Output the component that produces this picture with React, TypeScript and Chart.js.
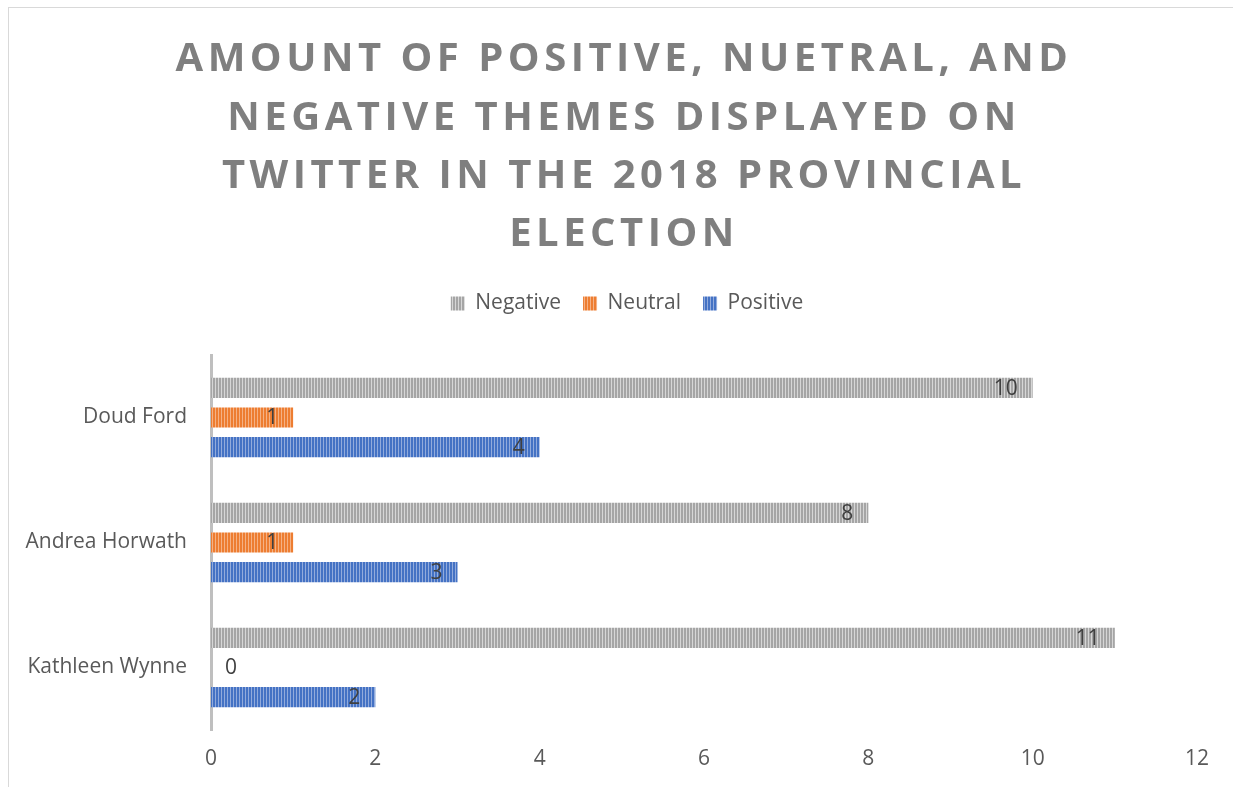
import React, { useEffect, useRef } from "react";
import { Chart, registerables } from "chart.js";

Chart.register(...registerables);

const TITLE_LINES = [
  "AMOUNT OF POSITIVE, NUETRAL, AND",
  "NEGATIVE THEMES DISPLAYED ON",
  "TWITTER IN THE 2018 PROVINCIAL",
  "ELECTION",
];
const CATEGORIES = ["Doud Ford", "Andrea Horwath", "Kathleen Wynne"];
const SERIES_NAMES = ["Negative", "Neutral", "Positive"];
const NEGATIVE = [10, 8, 11];
const NEUTRAL = [1, 1, 0];
const POSITIVE = [4, 3, 2];
const X_MIN = 0;
const X_MAX = 12;
const X_STEP = 2;

const COLORS = [
  { dark: "#a5a5a5", light: "#d6d6d6" },
  { dark: "#ed7d31", light: "#f5b184" },
  { dark: "#4472c4", light: "#92abdc" },
];

function makeStripes(dark: string, light: string): CanvasPattern | string {
  const c = document.createElement("canvas");
  c.width = 3;
  c.height = 4;
  const g = c.getContext("2d");
  if (!g) return dark;
  g.fillStyle = dark;
  g.fillRect(0, 0, 2, 4);
  g.fillStyle = light;
  g.fillRect(2, 0, 1, 4);
  const p = g.createPattern(c, "repeat");
  return p || dark;
}

const titlePlugin = {
  id: "customTitle",
  afterDraw(chart: any) {
    const ctx = chart.ctx as CanvasRenderingContext2D;
    ctx.save();
    ctx.font = 'bold 40px "Open Sans"';
    ctx.fillStyle = "#7f7f7f";
    ctx.textAlign = "center";
    ctx.textBaseline = "middle";
    (ctx as any).letterSpacing = "4.5px";
    TITLE_LINES.forEach((line, i) => {
      ctx.fillText(line, 615, 52 + i * 58.3);
    });
    ctx.restore();
  },
};

const legendShiftPlugin = {
  id: "legendShift",
  afterLayout(chart: any) {
    const l = chart.legend;
    if (l) {
      l.left += 24;
      l.right += 24;
    }
  },
};

const labelPlugin = {
  id: "barValueLabels",
  afterDatasetsDraw(chart: any) {
    const ctx = chart.ctx as CanvasRenderingContext2D;
    ctx.save();
    ctx.font = '21px "Open Sans"';
    ctx.fillStyle = "#404040";
    ctx.textBaseline = "middle";
    chart.data.datasets.forEach((ds: any, di: number) => {
      const meta = chart.getDatasetMeta(di);
      meta.data.forEach((el: any, i: number) => {
        const v = ds.data[i];
        if (v > 0) {
          ctx.textAlign = "right";
          ctx.fillText(String(v), el.x - 15, el.y + 1);
        } else {
          ctx.textAlign = "left";
          ctx.fillText(String(v), el.x + 14, el.y + 1);
        }
      });
    });
    ctx.restore();
  },
};

export default function App() {
  const ref = useRef<HTMLCanvasElement | null>(null);

  useEffect(() => {
    if (!ref.current) return;
    Chart.defaults.font.family = '"Open Sans", sans-serif';
    const values = [NEGATIVE, NEUTRAL, POSITIVE];
    const chart = new Chart(ref.current, {
      type: "bar",
      data: {
        labels: CATEGORIES,
        datasets: SERIES_NAMES.map((name, i) => ({
          label: name,
          data: values[i],
          backgroundColor: makeStripes(COLORS[i].dark, COLORS[i].light) as any,
          borderWidth: 0,
          categoryPercentage: 0.71,
          barPercentage: 0.68,
        })),
      },
      options: {
        indexAxis: "y",
        responsive: false,
        animation: false,
        layout: { padding: { top: 263, left: 0, right: 36, bottom: 0 } },
        scales: {
          x: {
            min: X_MIN,
            max: X_MAX,
            ticks: {
              stepSize: X_STEP,
              color: "#595959",
              font: { size: 21 },
              padding: 16,
            },
            grid: { display: false, drawTicks: false },
            border: { display: false },
            afterFit: (s: any) => {
              s.height = 57;
            },
          },
          y: {
            ticks: {
              color: "#595959",
              font: { size: 21 },
              padding: 24,
            },
            grid: { display: false, drawTicks: false },
            border: { display: true, color: "#bfbfbf", width: 3 },
            afterFit: (s: any) => {
              s.width = 202;
            },
          },
        },
        plugins: {
          legend: {
            position: "top",
            weight: 2000,
            labels: {
              boxWidth: 14,
              boxHeight: 14,
              padding: 22,
              color: "#595959",
              font: { size: 21 },
            },
          } as any,
          subtitle: {
            display: true,
            text: " ",
            font: { size: 10 },
            padding: { top: 9, bottom: 10 },
          },
          title: { display: false },
          tooltip: { enabled: false },
        },
      },
      plugins: [legendShiftPlugin, titlePlugin, labelPlugin],
    });
    return () => chart.destroy();
  }, []);

  return (
    <div
      style={{
        position: "fixed",
        left: 8,
        top: 7,
        width: 1224,
        height: 779,
        borderTop: "1px solid #d9d9d9",
        borderLeft: "1px solid #d9d9d9",
        background: "#ffffff",
      }}
    >
      <canvas ref={ref} width={1224} height={779} style={{ display: "block" }} />
    </div>
  );
}
